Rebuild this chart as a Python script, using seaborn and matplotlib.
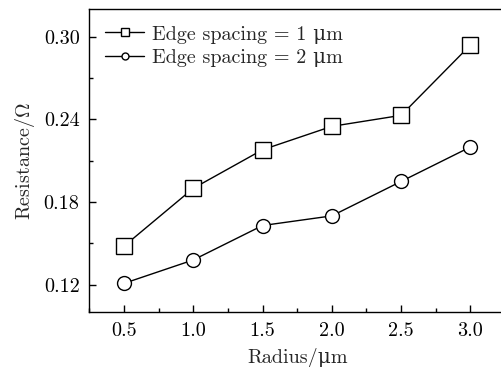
import numpy as np
import matplotlib
matplotlib.use('Agg')
import matplotlib.pyplot as plt
from matplotlib.ticker import MultipleLocator
import seaborn as sns

sns.set_theme(style='ticks')
plt.rcParams['font.family'] = ['cmr10', 'DejaVu Serif']
plt.rcParams['mathtext.fontset'] = 'cm'
plt.rcParams['axes.formatter.use_mathtext'] = True

radius = [0.5, 1.0, 1.5, 2.0, 2.5, 3.0]
res_1um = [0.148, 0.190, 0.218, 0.235, 0.243, 0.294]
res_2um = [0.121, 0.138, 0.163, 0.170, 0.195, 0.220]
labels = ['Edge spacing = 1 μm', 'Edge spacing = 2 μm']
xticks = [0.5, 1.0, 1.5, 2.0, 2.5, 3.0]
yticks = [0.12, 0.18, 0.24, 0.30]

fs = 14.5
fig = plt.figure(figsize=(5.02, 3.67), dpi=100)
ax = fig.add_axes([89.3/502, 1 - 312.3/367, (505 - 89.3)/502, (312.3 - 9.3)/367])

sns.lineplot(x=radius, y=res_1um, ax=ax, color='black', lw=1, marker='s',
             markersize=12, markerfacecolor='white', markeredgecolor='black',
             markeredgewidth=1, label=labels[0])
sns.lineplot(x=radius, y=res_2um, ax=ax, color='black', lw=1, marker='o',
             markersize=10, markerfacecolor='white', markeredgecolor='black',
             markeredgewidth=1, label=labels[1])

ax.set_xlim(0.25, 3.25)
ax.set_ylim(0.10, 0.32)
ax.set_xticks(xticks)
ax.set_xticklabels([f'{v:.1f}' for v in xticks])
ax.set_yticks(yticks)
ax.set_yticklabels([f'{v:.2f}' for v in yticks])
ax.xaxis.set_minor_locator(MultipleLocator(0.25))
ax.yaxis.set_minor_locator(MultipleLocator(0.03))
ax.tick_params(which='both', direction='in', width=1, colors='black', labelsize=fs)
ax.tick_params(which='major', length=5, pad=7)
ax.tick_params(which='minor', length=3)
for s in ax.spines.values():
    s.set_linewidth(1)
    s.set_color('black')

ax.set_xlabel('Radius/μm', fontsize=fs, labelpad=6)
ax.set_ylabel(r'Resistance/$\Omega$', fontsize=fs, labelpad=5)

ax.legend(loc='upper left', frameon=False, fontsize=fs, markerscale=0.5,
          handlelength=1.9, handletextpad=0.4, labelspacing=0.25,
          borderaxespad=0.4, bbox_to_anchor=(0.0, 1.0))

fig.savefig('out.png', dpi=100)
